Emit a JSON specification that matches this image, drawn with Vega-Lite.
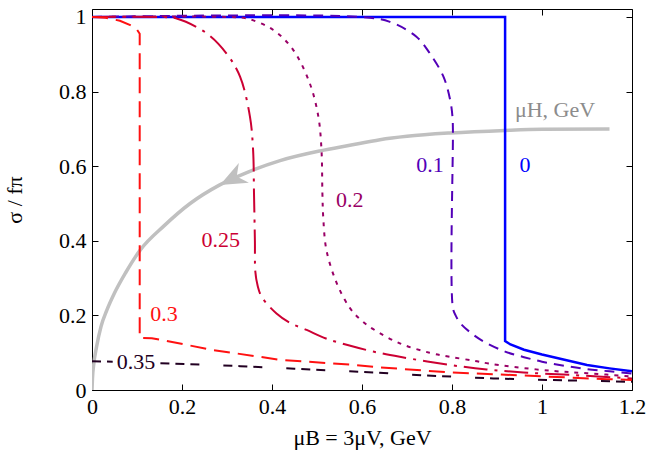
{
  "$schema": "https://vega.github.io/schema/vega-lite/v6.json",
  "width": 540,
  "height": 381,
  "autosize": {"type": "none"},
  "padding": {"left": 92, "top": 9, "right": 31, "bottom": 76},
  "background": "#ffffff",
  "config": {
    "view": {"stroke": "#000000", "strokeWidth": 1},
    "font": "Liberation Serif",
    "axis": {
      "domain": false,
      "grid": false,
      "ticks": true,
      "tickSize": -6,
      "tickColor": "#000000",
      "tickWidth": 1,
      "labelFlush": false,
      "labelFont": "Liberation Serif",
      "labelFontSize": 22,
      "labelColor": "#000000",
      "titleFont": "Liberation Serif",
      "titleFontSize": 22,
      "titleFontWeight": "normal",
      "titleColor": "#000000"
    }
  },
  "datasets": {
    "curves": [
      {"series": "0", "x": 0, "y": 1},
      {"series": "0", "x": 0.918, "y": 1},
      {"series": "0", "x": 0.918, "y": 0.131},
      {"series": "0", "x": 0.93, "y": 0.122},
      {"series": "0", "x": 0.96, "y": 0.108},
      {"series": "0", "x": 1.0, "y": 0.095},
      {"series": "0", "x": 1.05, "y": 0.081},
      {"series": "0", "x": 1.1, "y": 0.067},
      {"series": "0", "x": 1.15, "y": 0.058},
      {"series": "0", "x": 1.2, "y": 0.05},

      {"series": "0.1", "x": 0, "y": 1},
      {"series": "0.1", "x": 0.6, "y": 1},
      {"series": "0.1", "x": 0.662, "y": 0.987},
      {"series": "0.1", "x": 0.721, "y": 0.947},
      {"series": "0.1", "x": 0.751, "y": 0.902},
      {"series": "0.1", "x": 0.781, "y": 0.84},
      {"series": "0.1", "x": 0.796, "y": 0.777},
      {"series": "0.1", "x": 0.801, "y": 0.733},
      {"series": "0.1", "x": 0.802, "y": 0.7},
      {"series": "0.1", "x": 0.802, "y": 0.22},
      {"series": "0.1", "x": 0.808, "y": 0.2},
      {"series": "0.1", "x": 0.818, "y": 0.18},
      {"series": "0.1", "x": 0.84, "y": 0.155},
      {"series": "0.1", "x": 0.87, "y": 0.13},
      {"series": "0.1", "x": 0.918, "y": 0.103},
      {"series": "0.1", "x": 0.96, "y": 0.088},
      {"series": "0.1", "x": 1.0, "y": 0.076},
      {"series": "0.1", "x": 1.05, "y": 0.065},
      {"series": "0.1", "x": 1.1, "y": 0.056},
      {"series": "0.1", "x": 1.15, "y": 0.05},
      {"series": "0.1", "x": 1.2, "y": 0.044},

      {"series": "0.2", "x": 0, "y": 1},
      {"series": "0.2", "x": 0.3, "y": 1},
      {"series": "0.2", "x": 0.344, "y": 0.996},
      {"series": "0.2", "x": 0.403, "y": 0.965},
      {"series": "0.2", "x": 0.447, "y": 0.912},
      {"series": "0.2", "x": 0.484, "y": 0.822},
      {"series": "0.2", "x": 0.503, "y": 0.733},
      {"series": "0.2", "x": 0.51, "y": 0.643},
      {"series": "0.2", "x": 0.512, "y": 0.527},
      {"series": "0.2", "x": 0.514, "y": 0.46},
      {"series": "0.2", "x": 0.521, "y": 0.375},
      {"series": "0.2", "x": 0.544, "y": 0.286},
      {"series": "0.2", "x": 0.573, "y": 0.22},
      {"series": "0.2", "x": 0.6, "y": 0.185},
      {"series": "0.2", "x": 0.625, "y": 0.163},
      {"series": "0.2", "x": 0.684, "y": 0.125},
      {"series": "0.2", "x": 0.75, "y": 0.1},
      {"series": "0.2", "x": 0.796, "y": 0.089},
      {"series": "0.2", "x": 0.85, "y": 0.078},
      {"series": "0.2", "x": 0.881, "y": 0.071},
      {"series": "0.2", "x": 0.936, "y": 0.062},
      {"series": "0.2", "x": 1.025, "y": 0.051},
      {"series": "0.2", "x": 1.1, "y": 0.045},
      {"series": "0.2", "x": 1.2, "y": 0.036},

      {"series": "0.25", "x": 0, "y": 1},
      {"series": "0.25", "x": 0.15, "y": 1},
      {"series": "0.25", "x": 0.188, "y": 0.996},
      {"series": "0.25", "x": 0.255, "y": 0.956},
      {"series": "0.25", "x": 0.299, "y": 0.902},
      {"series": "0.25", "x": 0.329, "y": 0.84},
      {"series": "0.25", "x": 0.351, "y": 0.733},
      {"series": "0.25", "x": 0.358, "y": 0.643},
      {"series": "0.25", "x": 0.36, "y": 0.527},
      {"series": "0.25", "x": 0.362, "y": 0.4},
      {"series": "0.25", "x": 0.363, "y": 0.317},
      {"series": "0.25", "x": 0.368, "y": 0.28},
      {"series": "0.25", "x": 0.377, "y": 0.25},
      {"series": "0.25", "x": 0.41, "y": 0.205},
      {"series": "0.25", "x": 0.44, "y": 0.18},
      {"series": "0.25", "x": 0.477, "y": 0.161},
      {"series": "0.25", "x": 0.52, "y": 0.138},
      {"series": "0.25", "x": 0.57, "y": 0.12},
      {"series": "0.25", "x": 0.625, "y": 0.103},
      {"series": "0.25", "x": 0.684, "y": 0.089},
      {"series": "0.25", "x": 0.796, "y": 0.067},
      {"series": "0.25", "x": 0.877, "y": 0.055},
      {"series": "0.25", "x": 0.959, "y": 0.047},
      {"series": "0.25", "x": 1.07, "y": 0.04},
      {"series": "0.25", "x": 1.2, "y": 0.031},

      {"series": "0.3", "x": 0, "y": 1},
      {"series": "0.3", "x": 0.03, "y": 0.998},
      {"series": "0.3", "x": 0.062, "y": 0.99},
      {"series": "0.3", "x": 0.085, "y": 0.978},
      {"series": "0.3", "x": 0.1, "y": 0.966},
      {"series": "0.3", "x": 0.106, "y": 0.955},
      {"series": "0.3", "x": 0.106, "y": 0.14},
      {"series": "0.3", "x": 0.133, "y": 0.139},
      {"series": "0.3", "x": 0.27, "y": 0.107},
      {"series": "0.3", "x": 0.418, "y": 0.081},
      {"series": "0.3", "x": 0.573, "y": 0.068},
      {"series": "0.3", "x": 0.625, "y": 0.062},
      {"series": "0.3", "x": 0.796, "y": 0.047},
      {"series": "0.3", "x": 0.899, "y": 0.042},
      {"series": "0.3", "x": 1.01, "y": 0.036},
      {"series": "0.3", "x": 1.144, "y": 0.029},
      {"series": "0.3", "x": 1.2, "y": 0.027},

      {"series": "0.35", "seg": "a", "x": 0, "y": 0.077},
      {"series": "0.35", "seg": "a", "x": 0.046, "y": 0.0758},
      {"series": "0.35", "seg": "b", "x": 0.152, "y": 0.072},
      {"series": "0.35", "seg": "b", "x": 0.173, "y": 0.071},
      {"series": "0.35", "seg": "b", "x": 0.329, "y": 0.064},
      {"series": "0.35", "seg": "b", "x": 0.45, "y": 0.057},
      {"series": "0.35", "seg": "b", "x": 0.573, "y": 0.05},
      {"series": "0.35", "seg": "b", "x": 0.625, "y": 0.047},
      {"series": "0.35", "seg": "b", "x": 0.721, "y": 0.04},
      {"series": "0.35", "seg": "b", "x": 0.892, "y": 0.031},
      {"series": "0.35", "seg": "b", "x": 1.01, "y": 0.027},
      {"series": "0.35", "seg": "b", "x": 1.2, "y": 0.022},

      {"series": "H", "x": 0, "y": 0},
      {"series": "H", "x": 0.001, "y": 0.03},
      {"series": "H", "x": 0.004, "y": 0.07},
      {"series": "H", "x": 0.01, "y": 0.115},
      {"series": "H", "x": 0.02, "y": 0.17},
      {"series": "H", "x": 0.033, "y": 0.214},
      {"series": "H", "x": 0.05, "y": 0.26},
      {"series": "H", "x": 0.075, "y": 0.315},
      {"series": "H", "x": 0.107, "y": 0.375},
      {"series": "H", "x": 0.16, "y": 0.44},
      {"series": "H", "x": 0.218, "y": 0.5},
      {"series": "H", "x": 0.284, "y": 0.55},
      {"series": "H", "x": 0.344, "y": 0.583},
      {"series": "H", "x": 0.418, "y": 0.615},
      {"series": "H", "x": 0.507, "y": 0.641},
      {"series": "H", "x": 0.573, "y": 0.656},
      {"series": "H", "x": 0.64, "y": 0.671},
      {"series": "H", "x": 0.7, "y": 0.68},
      {"series": "H", "x": 0.796, "y": 0.689},
      {"series": "H", "x": 0.918, "y": 0.696},
      {"series": "H", "x": 1.0, "y": 0.699},
      {"series": "H", "x": 1.15, "y": 0.7}
    ],
    "labels": [
      {"series": "0", "label": "0", "x": 0.962, "y": 0.603},
      {"series": "0.1", "label": "0.1", "x": 0.751, "y": 0.603},
      {"series": "0.2", "label": "0.2", "x": 0.573, "y": 0.509},
      {"series": "0.25", "label": "0.25", "x": 0.286, "y": 0.402},
      {"series": "0.3", "label": "0.3", "x": 0.16, "y": 0.203},
      {"series": "0.35", "label": "0.35", "x": 0.098, "y": 0.076},
      {"series": "H", "label": "μH, GeV", "x": 1.029, "y": 0.751}
    ],
    "arrow": [
      {"series": "H", "x": 0.2844, "y": 0.5496}
    ]
  },
  "layer": [
    {
      "encoding": {
        "x": {
          "field": "x", "type": "quantitative",
          "scale": {"domain": [0, 1.2], "nice": false, "zero": false},
          "axis": {"orient": "bottom", "values": [0, 0.2, 0.4, 0.6, 0.8, 1, 1.2], "format": "~g", "labelPadding": 12, "title": "μB = 3μV, GeV", "titlePadding": 10}
        },
        "y": {
          "field": "y", "type": "quantitative",
          "scale": {"domain": [0, 1.0214], "nice": false, "zero": false},
          "axis": {"orient": "left", "values": [0, 0.2, 0.4, 0.6, 0.8, 1], "format": "~g", "labelPadding": 12, "title": "σ / fπ", "titlePadding": 32}
        }
      },
      "layer": [
        {
          "data": {"name": "curves"},
          "transform": [{"filter": "datum.series === 'H'"}],
          "mark": {"type": "line", "color": "#c0c0c0", "strokeWidth": 3.5, "interpolate": "monotone", "clip": true},
          "encoding": {"order": {"value": null}}
        },
        {
          "data": {"name": "arrow"},
          "mark": {"type": "point", "shape": "M0,0L-2,-0.83L-1.4,0L-2,0.83Z", "angle": 153, "size": 720, "filled": true, "color": "#c0c0c0", "opacity": 1}
        },
        {
          "data": {"name": "curves"},
          "transform": [{"filter": "datum.series === '0'"}],
          "mark": {"type": "line", "color": "#0000ff", "strokeWidth": 2.5, "clip": true},
          "encoding": {"order": {"value": null}}
        },
        {
          "data": {"name": "curves"},
          "transform": [{"filter": "datum.series === '0.1'"}],
          "mark": {"type": "line", "color": "#5300b8", "strokeWidth": 2, "strokeDash": [10, 7], "interpolate": "catmull-rom", "clip": true},
          "encoding": {"order": {"value": null}}
        },
        {
          "data": {"name": "curves"},
          "transform": [{"filter": "datum.series === '0.2'"}],
          "mark": {"type": "line", "color": "#990066", "strokeWidth": 2, "strokeDash": [4, 6], "interpolate": "catmull-rom", "clip": true},
          "encoding": {"order": {"value": null}}
        },
        {
          "data": {"name": "curves"},
          "transform": [{"filter": "datum.series === '0.25'"}],
          "mark": {"type": "line", "color": "#cc0033", "strokeWidth": 2, "strokeDash": [24, 7, 3, 7], "interpolate": "catmull-rom", "clip": true},
          "encoding": {"order": {"value": null}}
        },
        {
          "data": {"name": "curves"},
          "transform": [{"filter": "datum.series === '0.3'"}],
          "mark": {"type": "line", "color": "#ff1111", "strokeWidth": 2, "strokeDash": [16, 8], "clip": true},
          "encoding": {"order": {"value": null}}
        },
        {
          "data": {"name": "curves"},
          "transform": [{"filter": "datum.series === '0.35'"}],
          "mark": {"type": "line", "color": "#220022", "strokeWidth": 2, "strokeDash": [9, 6, 9, 6, 9, 24], "clip": true},
          "encoding": {"order": {"value": null}, "detail": {"field": "seg"}}
        },
        {
          "data": {"name": "labels"},
          "mark": {"type": "text", "font": "Liberation Serif", "fontSize": 22, "align": "center", "baseline": "middle"},
          "encoding": {
            "text": {"field": "label"},
            "color": {
              "field": "series", "type": "nominal", "legend": null,
              "scale": {"domain": ["0", "0.1", "0.2", "0.25", "0.3", "0.35", "H"], "range": ["#0000ff", "#5300b8", "#990066", "#cc0033", "#ff1111", "#220022", "#8c8c8c"]}
            }
          }
        }
      ]
    },
    {
      "data": {"name": "arrow"},
      "mark": {"type": "point", "opacity": 0},
      "encoding": {
        "x": {
          "field": "x", "type": "quantitative",
          "scale": {"domain": [0, 1.2], "nice": false, "zero": false},
          "axis": {"orient": "top", "values": [0, 0.2, 0.4, 0.6, 0.8, 1, 1.2], "labels": false, "title": null}
        },
        "y": {
          "field": "y", "type": "quantitative",
          "scale": {"domain": [0, 1.0214], "nice": false, "zero": false},
          "axis": {"orient": "right", "values": [0, 0.2, 0.4, 0.6, 0.8, 1], "labels": false, "title": null}
        }
      }
    }
  ],
  "resolve": {"axis": {"x": "independent", "y": "independent"}}
}
